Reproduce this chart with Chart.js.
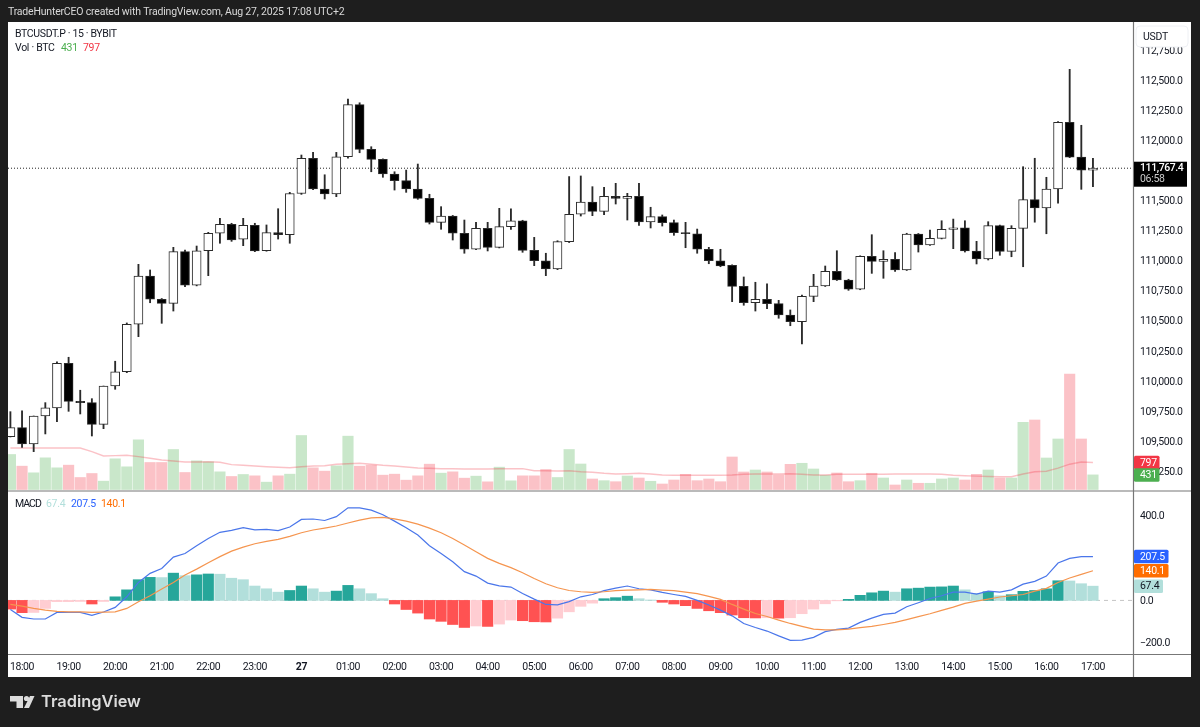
<!DOCTYPE html>
<html><head><meta charset="utf-8">
<style>html,body{margin:0;padding:0;background:#1e1e1e;overflow:hidden}canvas{display:block}</style>
<script src="https://cdn.jsdelivr.net/npm/chart.js@4/dist/chart.umd.min.js"></script>
</head><body>
<div style="width:1200px;height:727px;position:relative"><canvas id="c" width="1200" height="727"></canvas></div>
<script>
const times=['17:45','18:00','18:15','18:30','18:45','19:00','19:15','19:30','19:45','20:00','20:15','20:30','20:45','21:00','21:15','21:30','21:45','22:00','22:15','22:30','22:45','23:00','23:15','23:30','23:45','27','00:15','00:30','00:45','01:00','01:15','01:30','01:45','02:00','02:15','02:30','02:45','03:00','03:15','03:30','03:45','04:00','04:15','04:30','04:45','05:00','05:15','05:30','05:45','06:00','06:15','06:30','06:45','07:00','07:15','07:30','07:45','08:00','08:15','08:30','08:45','09:00','09:15','09:30','09:45','10:00','10:15','10:30','10:45','11:00','11:15','11:30','11:45','12:00','12:15','12:30','12:45','13:00','13:15','13:30','13:45','14:00','14:15','14:30','14:45','15:00','15:15','15:30','15:45','16:00','16:15','16:30','16:45','17:00'];
const opens=[109537,109612,109477,109709,109776,110147,109831,109820,109640,109958,
110077,110471,110872,110679,110645,111074,110795,111082,111227,111301,
111177,111293,111082,111232,111215,111557,111850,111595,111553,111863,
112295,111924,111841,111719,111664,111595,111517,111318,111370,111227,
111094,111268,111110,111282,111331,111085,110999,110930,111157,111385,
111487,111409,111534,111517,111534,111321,111365,111315,111232,111223,
111094,110999,110960,110786,110650,110679,110642,110548,110492,110703,
110789,110911,110839,110762,111036,110994,111011,110922,111221,111130,
111185,111260,111273,111080,111013,111290,111077,111268,111506,111437,
111595,112149,111860,111752];
const highs=[109745,109751,109709,109820,110160,110197,109923,109853,109958,110164,
110482,110969,110922,110685,111110,111088,111121,111235,111351,111310,
111351,111310,111296,111431,111567,111877,111899,111713,111899,112342,
112311,111946,111845,111738,111752,111802,111551,111448,111375,111337,
111318,111318,111434,111429,111335,111193,111061,111165,111698,111703,
111614,111609,111642,111559,111642,111443,111379,111337,111318,111262,
111110,111094,110965,110864,110820,110806,110670,110590,110714,110886,
110955,111082,110845,111040,111215,111082,111066,111227,111225,111254,
111331,111345,111331,111160,111323,111295,111290,111780,111850,111692,
112154,112589,112124,111850];
const lows=[109535,109449,109413,109560,109662,109748,109726,109543,109604,109931,
110069,110368,110650,110479,110581,110783,110790,110875,111144,111160,
111124,111074,111078,111179,111144,111550,111590,111512,111531,111850,
111896,111738,111692,111586,111567,111509,111304,111260,111171,111061,
111090,111080,111105,111260,111069,110958,110875,110925,111150,111370,
111373,111381,111470,111337,111293,111271,111287,111210,111107,111061,
110974,110949,110659,110629,110581,110600,110521,110459,110307,110659,
110785,110835,110753,110758,110894,110853,110911,110918,111071,111126,
111180,111099,111071,110972,111005,111044,111032,110949,111319,111223,
111476,111855,111592,111614];
const closes=[109612,109477,109709,109776,110147,109831,109820,109640,109958,110077,
110471,110872,110679,110645,111074,110795,111082,111227,111301,111171,
111293,111080,111232,111215,111557,111850,111595,111553,111863,112295,
111924,111841,111719,111664,111595,111517,111318,111370,111227,111094,
111268,111110,111282,111331,111085,110999,110930,111157,111385,111487,
111409,111534,111517,111534,111321,111365,111315,111232,111223,111094,
110999,110955,110786,110650,110679,110642,110548,110492,110703,110789,
110911,110839,110762,111036,110994,111011,110922,111221,111130,111185,
111260,111273,111080,111013,111290,111077,111268,111506,111437,111595,
112149,111860,111752,111767.4];
const volumes=[1033,688,492,934,639,718,354,472,246,905,
669,1465,797,797,1180,502,846,816,521,384,
443,403,216,403,452,1593,639,541,698,1573,
688,718,423,452,275,403,747,482,521,334,
393,226,659,256,403,403,590,354,1180,752,
310,260,230,398,339,242,162,280,448,260,
310,230,959,516,575,516,428,743,773,605,
419,487,230,260,478,339,133,280,183,183,
310,339,280,448,575,339,339,1982,2050,929,
1490,3407,1490,431];
const volumeMA=[1224,1224,1224,1224,1224,1224,1224,1115,988,1000,
1009,968,920,870,841,811,811,820,802,732,
714,693,673,655,643,673,693,702,743,761,
773,743,714,693,664,634,625,614,614,605,
605,605,614,614,614,555,555,546,555,525,
507,478,457,466,478,457,428,419,419,419,
419,419,428,448,457,457,457,466,448,428,
428,448,448,448,448,448,457,457,457,457,
448,419,405,395,385,375,375,457,525,540,
628,746,811,797];
const macdLine=[-43,-80,-88,-88,-57,-57,-57,-71,-55,-33,
17,85,128,151,205,222,259,293,322,331,
344,334,336,330,347,383,385,378,396,438,
438,427,405,375,344,309,259,222,183,136,
115,82,69,63,33,6,-19,-21,-6,17,
28,46,58,68,55,50,38,28,19,0,
-22,-46,-73,-109,-128,-145,-168,-189,-188,-175,
-148,-137,-131,-104,-84,-66,-60,-30,-11,9,
22,39,39,30,44,39,50,77,90,115,
177,199,207,207.5];
const signalLine=[-19,-27,-38,-46,-52,-54,-54,-57,-55,-54,
-38,-6,22,54,85,120,148,178,207,233,
252,268,279,289,303,320,333,342,352,366,
380,390,393,386,375,361,342,320,293,262,
230,199,175,155,131,104,79,60,47,41,
38,41,46,49,50,52,49,46,39,32,
19,5,-19,-41,-62,-76,-93,-109,-123,-136,
-139,-139,-136,-129,-123,-114,-104,-91,-77,-63,
-47,-32,-14,-3,6,16,22,28,44,57,
85,106,123,140.1];
const histogram=[-41,-58,-57,-38,-6,-6,-5,-17,-5,17,
50,98,109,108,129,117,121,125,124,105,
98,68,55,39,47,68,55,39,44,71,
55,32,8,-17,-43,-60,-88,-99,-114,-128,
-121,-123,-112,-93,-96,-101,-102,-84,-54,-28,
-13,8,13,20,8,2,-9,-17,-25,-38,
-49,-58,-69,-82,-83,-82,-84,-82,-63,-41,
-16,-2,5,24,36,44,39,55,58,63,
64,68,50,33,41,22,27,43,47,55,
93,92,79,67.4];
const priceTicks=[112750,112500,112250,112000,111750,111500,111250,111000,110750,110500,110250,110000,109750,109500,109250];
const macdTicks=[400,0,-200];
const lastPrice=111767.4, countdown='06:58';
const lastVolume=431, lastVolumeMA=797;

const UI='Roboto, sans-serif';
const idx=times.map((_,i)=>i);
const pts=a=>a.map((y,i)=>({x:i,y}));
const up=i=>closes[i]>=opens[i];
const strong=i=>i===0||(histogram[i]>=0?histogram[i]>histogram[i-1]:histogram[i]<histogram[i-1]);

function label(ctx,t,x,y,col,font,ls){ctx.fillStyle=col;ctx.font=font||('10.5px '+UI);ctx.letterSpacing=(ls===undefined?-0.3:ls)+'px';ctx.textBaseline='middle';ctx.textAlign='left';ctx.fillText(t,x,y);}
function tag(ctx,y,x,w,h,bg,fg,text){
  ctx.fillStyle=bg;ctx.beginPath();ctx.roundRect(x,y-h/2,w,h,1.5);ctx.fill();
  label(ctx,text,x+6,y+0.5,fg);
}

const chrome={id:'chrome',
 afterLayout(ch){const m=ch.scales.macd;m.right=m.left+58;},
 beforeDraw(ch){const c=ch.ctx,a=ch.chartArea;
  c.letterSpacing='-0.4px';
  c.save();
  c.fillStyle='#1e1e1e';c.fillRect(0,0,1200,727);
  c.fillStyle='#fff';c.fillRect(a.left,a.top,a.right-a.left+58,677-a.top);
  c.restore();},
 afterDraw(ch){const c=ch.ctx,a=ch.chartArea,s=ch.scales;c.save();
  c.strokeStyle='#777';c.lineWidth=1.2;c.beginPath();
  c.moveTo(a.right+.5,a.top);c.lineTo(a.right+.5,677);
  c.moveTo(a.left,491);c.lineTo(a.right+58,491);
  c.moveTo(a.left,654.5);c.lineTo(a.right+58,654.5);c.stroke();
  c.fillStyle='#fff';c.strokeStyle='#eef0f4';c.lineWidth=1;c.beginPath();c.roundRect(1136,26,52,21,4);c.fill();c.stroke();
  label(c,'USDT',1143,37,'#131722');
  const py=s.price.getPixelForValue(lastPrice);
  c.fillStyle='#000';c.fillRect(1134,py-6.5,53,25);
  label(c,lastPrice.toLocaleString('en-US',{minimumFractionDigits:1}),1140,py+.5,'#fff','500 10.5px '+UI,-0.4);
  label(c,countdown,1140,py+11.5,'#ccc');
  tag(c,s.vol.getPixelForValue(lastVolumeMA),1134,25.5,13.5,'#f23645','#fff',String(lastVolumeMA));
  tag(c,s.vol.getPixelForValue(lastVolume),1134,25.5,13.5,'#4caf50','#fff',String(lastVolume));
  tag(c,s.macd.getPixelForValue(histogram[93]),1134,29,13.5,'#b2dfdb','#131722',String(histogram[93]));
  tag(c,s.macd.getPixelForValue(macdLine[93]),1134,34.5,13.5,'#2962ff','#fff',String(macdLine[93]));
  tag(c,s.macd.getPixelForValue(signalLine[93]),1134,34.5,13.5,'#ff6d00','#fff',String(signalLine[93]));
  label(c,'TradeHunterCEO created with TradingView.com, Aug 27, 2025 17:08 UTC+2',8,12.5,'#d9d9d9','10.5px '+UI,-0.2);
  label(c,'BTCUSDT.P · 15 · BYBIT',15,34.5,'#131722','10.5px '+UI,-0.35);
  label(c,'Vol · BTC',15,48.5,'#131722','10.5px '+UI,-0.3);
  label(c,String(lastVolume),61,48.5,'#4caf50');
  label(c,String(lastVolumeMA),83,48.5,'#f23645');
  label(c,'MACD',15,504,'#131722','10.5px '+UI,-1);
  label(c,String(histogram[93]),46,504,'#b2dfdb');
  label(c,String(macdLine[93]),71,504,'#2962ff');
  label(c,String(signalLine[93]),101,504,'#ff6d00');
  c.fillStyle='#dcdcdc';
  c.beginPath();c.moveTo(10,696);c.lineTo(23,696);c.lineTo(23,708);c.lineTo(16.5,708);c.lineTo(16.5,701.5);c.lineTo(10,701.5);c.closePath();c.fill();
  c.beginPath();c.arc(26.5,698.5,2.6,0,7);c.fill();
  c.beginPath();c.moveTo(30,696);c.lineTo(34.5,696);c.lineTo(29,708);c.lineTo(24,708);c.closePath();c.fill();
  label(c,'TradingView',41,702.5,'#dcdcdc','600 16.4px Inter, '+UI,0);
  c.restore();}
};

new Chart(document.getElementById('c'),{
 type:'bar',
 data:{datasets:[
  {type:'line',data:[{x:-0.206,y:lastPrice},{x:96.44,y:lastPrice}],yAxisID:'price',borderColor:'#222',borderWidth:1,borderDash:[1,2],pointRadius:0,order:9},
  {type:'line',data:[{x:-0.206,y:0},{x:96.44,y:0}],yAxisID:'macd',borderColor:'#c4c4c4',borderWidth:1,borderDash:[4,4],pointRadius:0,order:9},
  {data:pts(volumes),yAxisID:'vol',grouped:false,barThickness:10.5,backgroundColor:idx.map(i=>up(i)?'rgba(76,175,80,0.3)':'rgba(242,54,69,0.3)'),order:8},
  {type:'line',data:pts(volumeMA),yAxisID:'vol',borderColor:'rgba(242,54,69,0.3)',borderWidth:1.4,pointRadius:0,order:7},
  {data:idx.map(i=>({x:i,y:[lows[i],highs[i]]})),yAxisID:'price',grouped:false,barThickness:1.2,backgroundColor:'#2a2a2a',order:6},
  {data:idx.map(i=>({x:i,y:[opens[i],closes[i]]})),yAxisID:'price',grouped:false,barThickness:9,borderWidth:1,borderColor:'#2a2a2a',borderSkipped:false,backgroundColor:idx.map(i=>up(i)?'#fff':'#000'),order:5},
  {data:pts(histogram),yAxisID:'macd',grouped:false,barThickness:10.5,backgroundColor:idx.map(i=>histogram[i]>=0?(strong(i)?'#26a69a':'#b2dfdb'):(strong(i)?'#ff5252':'#ffcdd2')),order:4},
  {type:'line',data:pts(macdLine),yAxisID:'macd',borderColor:'#4a76ea',borderWidth:1.2,pointRadius:0,order:2},
  {type:'line',data:pts(signalLine),yAxisID:'macd',borderColor:'#f5954f',borderWidth:1.2,pointRadius:0,order:1}
 ]},
 plugins:[chrome],
 options:{responsive:false,animation:false,devicePixelRatio:1,
  layout:{padding:{left:8,top:22,right:9,bottom:50}},
  plugins:{legend:{display:false},tooltip:{enabled:false}},
  scales:{
   x:{type:'linear',offset:false,min:-0.206,max:96.44,position:'bottom',
      grid:{display:false,offset:false,drawTicks:false},border:{display:false},
      afterFit:s=>{s.height=23},
      afterBuildTicks:s=>{s.ticks=idx.filter(i=>times[i]==='27'||times[i].endsWith(':00')).map(v=>({value:v}))},
      ticks:{autoSkip:false,maxRotation:0,padding:7,color:'#131722',
        font:c=>({family:UI,size:10.5,weight:c.tick&&times[c.tick.value]==='27'?'bold':'normal'}),
        callback:v=>times[v]}},
   macd:{type:'linear',position:'right',weight:-1,min:-253.5,max:2736,
      grid:{display:false,drawTicks:false},border:{display:false},
      afterFit:s=>{s.width=0},
      afterBuildTicks:s=>{s.ticks=macdTicks.map(v=>({value:v}))},
      ticks:{autoSkip:false,padding:7,labelOffset:1,color:'#131722',font:{family:UI,size:10.5},
        callback:v=>(v<0?'\u2212':'')+Math.abs(v).toFixed(1)}},
   price:{type:'linear',position:'right',weight:0,min:107732,max:112982,
      grid:{display:false,drawTicks:false},border:{display:false},
      afterFit:s=>{s.width=58},
      afterBuildTicks:s=>{s.ticks=priceTicks.map(v=>({value:v}))},
      ticks:{autoSkip:false,padding:7,labelOffset:1,color:'#131722',font:{family:UI,size:10.5},
        callback:v=>v.toLocaleString('en-US',{minimumFractionDigits:1})}},
   vol:{type:'linear',display:false,position:'right',min:-4853,max:13791}
  }}
});
</script>
</body></html>
